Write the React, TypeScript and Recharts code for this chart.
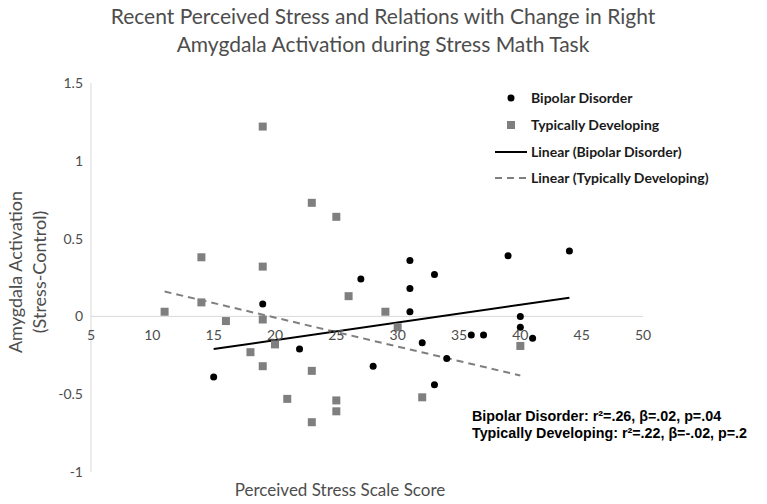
import React from 'react';
import {
  ScatterChart,
  Scatter,
  XAxis,
  YAxis,
  ReferenceLine,
  ReferenceDot,
} from 'recharts';

// Perceived stress score vs. change in right amygdala activation
const bipolarX = [15, 19, 22, 27, 28, 31, 31, 31, 32, 33, 33, 34, 36, 37, 39, 40, 40, 41, 44];
const bipolarY = [-0.39, 0.08, -0.21, 0.24, -0.32, 0.36, 0.18, 0.03, -0.17, 0.27, -0.44, -0.27, -0.12, -0.12, 0.39, 0.0, -0.07, -0.14, 0.42];

const typicalX = [11, 14, 14, 16, 18, 19, 19, 19, 19, 20, 21, 23, 23, 23, 25, 25, 25, 26, 29, 30, 32, 40];
const typicalY = [0.03, 0.38, 0.09, -0.03, -0.23, 1.22, 0.32, -0.02, -0.32, -0.18, -0.53, 0.73, -0.35, -0.68, 0.64, -0.54, -0.61, 0.13, 0.03, -0.07, -0.52, -0.19];

// linear trendline end points, as drawn in the figure
const bipolarTrendX = [15, 44];
const bipolarTrendY = [-0.21, 0.12];
const typicalTrendX = [11, 40];
const typicalTrendY = [0.16, -0.38];

const xTicks = [5, 10, 15, 20, 25, 30, 35, 40, 45, 50];
const yTicks = [-1, -0.5, 0, 0.5, 1, 1.5];

const toPoints = (xs: number[], ys: number[]) => xs.map((x, i) => ({ x, y: ys[i] }));

const bipolarData = toPoints(bipolarX, bipolarY);
const typicalData = toPoints(typicalX, typicalY);
const bipolarTrend = toPoints(bipolarTrendX, bipolarTrendY);
const typicalTrend = toPoints(typicalTrendX, typicalTrendY);

const FONT = 'Lato, "Open Sans", sans-serif';
const GREY = '#4d4d4d';

const BlackDot = (p: any) => <circle cx={p.cx} cy={p.cy} r={3.5} fill="#000" />;
const GreySquare = (p: any) => (
  <rect x={p.cx - 4} y={p.cy - 4} width={8} height={8} fill="#7f7f7f" />
);
const NoShape = () => <g />;

export default function App() {
  return (
    <div
      style={{
        position: 'absolute',
        left: 0,
        top: 0,
        width: 767,
        height: 504,
        background: '#fff',
        fontFamily: FONT,
      }}
    >
      <ScatterChart
        width={767}
        height={504}
        margin={{ top: 83, right: 124, bottom: 32, left: 51 }}
      >
        <XAxis type="number" dataKey="x" domain={[5, 50]} ticks={xTicks} hide />
        <YAxis
          type="number"
          dataKey="y"
          domain={[-1, 1.5]}
          ticks={yTicks}
          width={40}
          tickLine={false}
          axisLine={{ stroke: '#d9d9d9' }}
          tick={{ fill: GREY, fontSize: 14, fontFamily: FONT }}
        />
        <ReferenceLine y={0} stroke="#d9d9d9" strokeWidth={1} />
        {xTicks.map((t) => (
          <ReferenceDot
            key={t}
            x={t}
            y={0}
            r={0}
            fill="none"
            stroke="none"
            label={{
              value: t,
              position: 'bottom',
              offset: 14,
              fill: GREY,
              fontSize: 14,
              fontFamily: FONT,
            }}
          />
        ))}
        <Scatter
          data={typicalTrend}
          line={{ stroke: '#7f7f7f', strokeWidth: 2, strokeDasharray: '7 5' }}
          lineType="joint"
          shape={NoShape}
          isAnimationActive={false}
        />
        <Scatter
          data={bipolarTrend}
          line={{ stroke: '#000', strokeWidth: 2 }}
          lineType="joint"
          shape={NoShape}
          isAnimationActive={false}
        />
        <Scatter data={typicalData} shape={GreySquare} isAnimationActive={false} />
        <Scatter data={bipolarData} shape={BlackDot} isAnimationActive={false} />
      </ScatterChart>

      <svg
        width={767}
        height={504}
        style={{ position: 'absolute', left: 0, top: 0, pointerEvents: 'none' }}
      >
        <g fontFamily={FONT} fill={GREY} textAnchor="middle">
          <text x={383} y={24} fontSize={21}>
            Recent Perceived Stress and Relations with Change in Right
          </text>
          <text x={383} y={52} fontSize={21}>
            Amygdala Activation during Stress Math Task
          </text>
          <text x={340} y={496} fontSize={17}>
            Perceived Stress Scale Score
          </text>
          <text transform="translate(22,272) rotate(-90)" fontSize={18}>
            Amygdala Activation
          </text>
          <text transform="translate(46,272) rotate(-90)" fontSize={18}>
            (Stress-Control)
          </text>
        </g>

        {/* legend */}
        <g fontFamily={FONT} fontWeight="bold" fontSize={14} fill="#1a1a1a">
          <circle cx={511} cy={98} r={3.5} fill="#000" />
          <text x={531} y={103}>Bipolar Disorder</text>
          <rect x={507} y={121} width={8} height={8} fill="#7f7f7f" />
          <text x={531} y={130}>Typically Developing</text>
          <line x1={495} y1={152} x2={527} y2={152} stroke="#000" strokeWidth={2} />
          <text x={531} y={157}>Linear (Bipolar Disorder)</text>
          <line
            x1={495}
            y1={178}
            x2={527}
            y2={178}
            stroke="#7f7f7f"
            strokeWidth={2}
            strokeDasharray="7 5"
          />
          <text x={531} y={183}>Linear (Typically Developing)</text>
        </g>

        {/* regression stats */}
        <g
          fontFamily='"Liberation Sans", Arial, sans-serif'
          fontWeight="bold"
          fontSize={14.3}
          fill="#000"
        >
          <text x={472} y={421}>Bipolar Disorder: r²=.26, β=.02, p=.04</text>
          <text x={472} y={438}>Typically Developing: r²=.22, β=-.02, p=.2</text>
        </g>
      </svg>
    </div>
  );
}
